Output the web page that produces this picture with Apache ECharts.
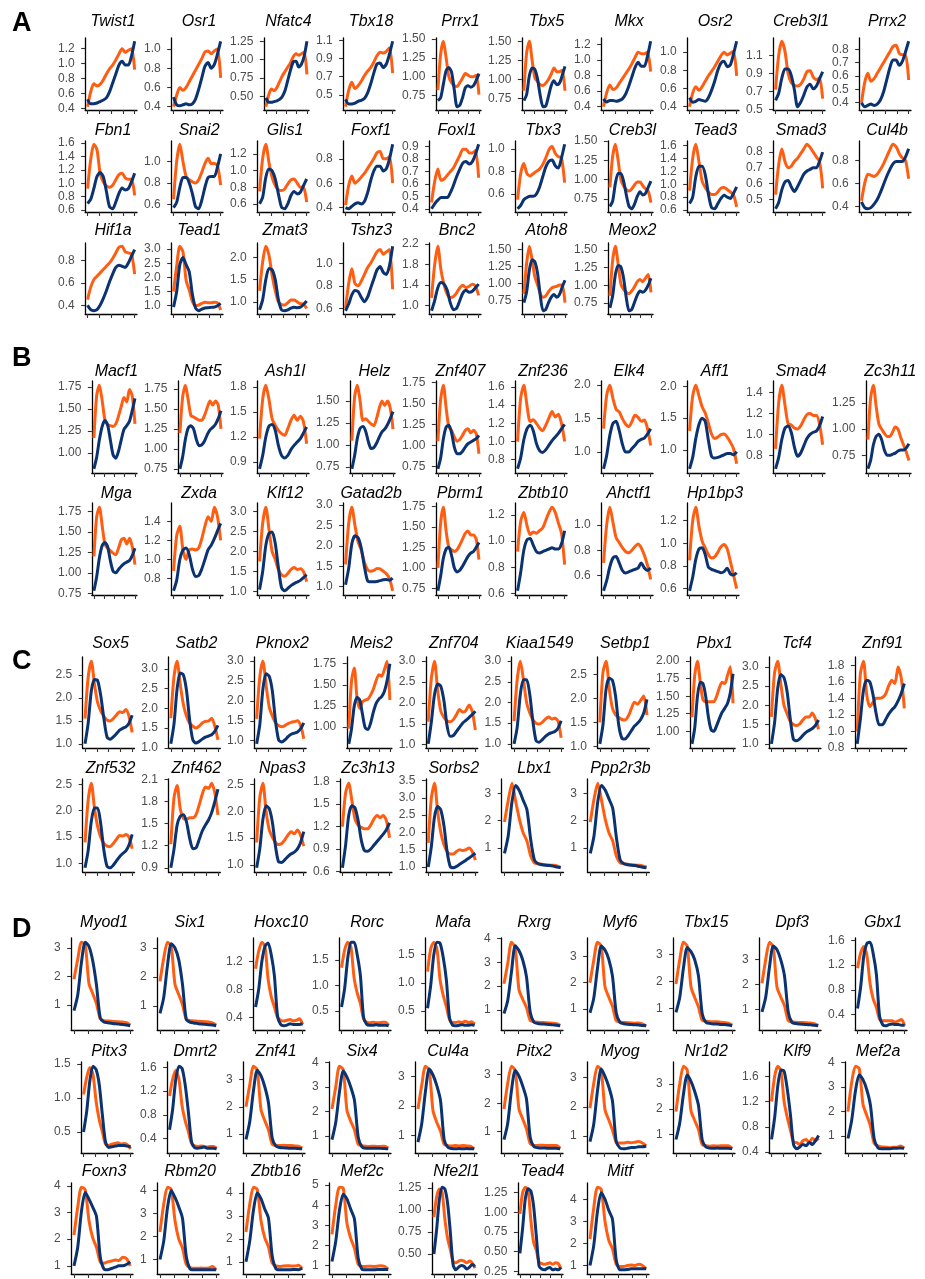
<!DOCTYPE html>
<html><head><meta charset="utf-8">
<script src="https://cdn.jsdelivr.net/npm/echarts@6/dist/echarts.min.js"></script>
<style>html,body{margin:0;padding:0;background:#fff}#c{width:925px;height:1279px}</style>
</head><body><div id="c"></div>
<script>
// ---------------- DATA ----------------
const A_genes = ["Twist1","Osr1","Nfatc4","Tbx18","Prrx1","Tbx5","Mkx","Osr2","Creb3l1","Prrx2",
 "Fbn1","Snai2","Glis1","Foxf1","Foxl1","Tbx3","Creb3l","Tead3","Smad3","Cul4b",
 "Hif1a","Tead1","Zmat3","Tshz3","Bnc2","Atoh8","Meox2"];
const A_orange = [
 [0.42,0.62,0.73,0.70,0.72,0.78,0.86,0.93,0.98,1.05,1.13,1.20,1.15,1.18,1.20,0.92],
 [0.40,0.52,0.60,0.57,0.60,0.66,0.72,0.78,0.84,0.90,0.97,0.98,0.95,0.98,1.00,0.70],
 [0.36,0.52,0.60,0.58,0.62,0.70,0.78,0.84,0.90,0.96,1.04,1.08,1.06,1.08,1.10,0.80],
 [0.37,0.55,0.64,0.57,0.60,0.65,0.71,0.76,0.80,0.86,0.93,0.97,0.96,0.98,1.02,0.74],
 [0.82,1.30,1.47,1.25,1.00,0.92,0.88,0.87,0.92,0.98,1.04,1.02,1.00,1.00,1.02,0.76],
 [0.85,1.35,1.50,1.25,1.02,0.97,0.93,0.92,0.95,1.00,1.07,1.15,1.10,1.10,1.12,0.85],
 [0.40,0.58,0.68,0.62,0.64,0.70,0.76,0.82,0.88,0.95,1.03,1.10,1.08,1.08,1.10,0.85],
 [0.40,0.55,0.62,0.58,0.62,0.68,0.74,0.79,0.84,0.90,0.96,1.00,0.97,0.99,1.01,0.74],
 [0.72,1.10,1.26,1.15,0.90,0.80,0.77,0.76,0.78,0.84,0.92,0.93,0.86,0.83,0.85,0.62],
 [0.40,0.55,0.62,0.56,0.58,0.62,0.66,0.70,0.74,0.78,0.82,0.83,0.77,0.76,0.76,0.57],
 [0.92,1.35,1.58,1.50,1.15,1.02,0.96,0.94,0.97,1.05,1.13,1.15,1.08,1.06,1.06,0.82],
 [0.65,1.00,1.16,1.00,0.86,0.83,0.81,0.80,0.83,0.90,0.98,1.03,0.98,0.98,0.96,0.78],
 [0.75,1.15,1.32,1.10,0.92,0.82,0.77,0.76,0.78,0.84,0.89,0.90,0.85,0.80,0.80,0.62],
 [0.42,0.58,0.66,0.60,0.62,0.65,0.68,0.72,0.76,0.80,0.85,0.86,0.80,0.80,0.82,0.60],
 [0.45,0.62,0.72,0.63,0.64,0.67,0.70,0.73,0.78,0.83,0.88,0.88,0.85,0.85,0.87,0.65],
 [0.55,0.78,0.87,0.78,0.76,0.78,0.80,0.82,0.86,0.92,0.99,1.02,0.96,0.93,0.92,0.70],
 [0.90,1.30,1.46,1.25,1.00,0.92,0.87,0.85,0.88,0.93,0.97,0.97,0.92,0.88,0.85,0.70],
 [0.90,1.40,1.62,1.35,1.05,0.95,0.88,0.84,0.84,0.88,0.94,0.95,0.92,0.88,0.84,0.65],
 [0.53,0.72,0.82,0.74,0.70,0.71,0.74,0.76,0.79,0.82,0.85,0.83,0.80,0.77,0.74,0.57],
 [0.45,0.60,0.68,0.67,0.66,0.68,0.72,0.77,0.83,0.89,0.94,0.92,0.86,0.82,0.80,0.64],
 [0.45,0.56,0.63,0.66,0.69,0.72,0.75,0.78,0.82,0.87,0.92,0.93,0.88,0.87,0.86,0.68],
 [1.50,2.40,3.10,2.90,1.90,1.55,1.15,1.00,1.02,1.08,1.12,1.10,1.10,1.12,1.10,0.85],
 [1.25,1.90,2.25,2.05,1.60,1.25,1.00,0.94,0.93,0.98,1.04,1.04,1.00,0.96,0.95,0.85],
 [0.60,0.82,0.95,0.82,0.80,0.84,0.90,0.96,1.00,1.05,1.10,1.12,1.08,1.10,1.12,0.77],
 [1.15,1.80,2.16,1.70,1.40,1.22,1.16,1.18,1.25,1.35,1.40,1.35,1.38,1.42,1.38,1.20],
 [0.85,1.30,1.55,1.35,1.10,0.98,0.85,0.80,0.82,0.88,0.93,0.95,0.96,0.98,0.98,0.72],
 [0.85,1.35,1.55,1.30,1.02,0.94,0.90,0.88,0.92,0.98,1.05,1.08,1.05,1.10,1.15,0.90]
];
const A_blue = [
 [0.52,0.46,0.46,0.47,0.49,0.51,0.54,0.62,0.74,0.86,0.98,1.03,0.98,0.98,1.10,1.30],
 [0.50,0.42,0.41,0.42,0.43,0.42,0.43,0.48,0.58,0.70,0.82,0.86,0.80,0.84,0.95,1.08],
 [0.48,0.42,0.42,0.43,0.44,0.46,0.50,0.58,0.72,0.86,0.97,0.98,0.90,0.94,1.05,1.25],
 [0.45,0.40,0.40,0.41,0.43,0.44,0.46,0.52,0.62,0.74,0.84,0.85,0.80,0.84,0.95,1.09],
 [0.68,0.72,0.90,1.08,1.12,1.06,0.82,0.60,0.62,0.72,0.85,0.88,0.86,0.88,0.95,1.04],
 [0.72,0.80,1.05,1.15,1.13,1.00,0.78,0.64,0.65,0.78,0.92,0.98,0.93,0.95,1.05,1.17],
 [0.50,0.46,0.48,0.48,0.47,0.48,0.50,0.56,0.66,0.78,0.90,0.97,0.92,0.92,1.05,1.24],
 [0.50,0.45,0.46,0.48,0.47,0.46,0.50,0.58,0.68,0.80,0.88,0.90,0.84,0.86,0.98,1.12],
 [0.60,0.68,0.85,0.95,0.95,0.88,0.72,0.53,0.58,0.66,0.75,0.78,0.73,0.76,0.84,0.92],
 [0.40,0.37,0.38,0.39,0.38,0.39,0.42,0.48,0.57,0.66,0.72,0.72,0.68,0.71,0.78,0.86],
 [0.70,0.76,0.92,1.10,1.16,1.10,0.88,0.65,0.62,0.72,0.85,0.93,0.90,0.92,1.02,1.15],
 [0.57,0.62,0.76,0.85,0.85,0.80,0.70,0.58,0.56,0.64,0.76,0.85,0.86,0.86,0.95,1.07],
 [0.60,0.68,0.92,1.02,1.00,0.90,0.72,0.56,0.54,0.60,0.70,0.75,0.72,0.74,0.82,0.90],
 [0.40,0.39,0.41,0.43,0.44,0.43,0.45,0.52,0.62,0.70,0.74,0.74,0.70,0.72,0.80,0.92],
 [0.40,0.44,0.47,0.49,0.49,0.49,0.53,0.59,0.66,0.72,0.77,0.78,0.76,0.78,0.84,0.92],
 [0.47,0.50,0.55,0.57,0.58,0.58,0.60,0.66,0.75,0.84,0.89,0.90,0.85,0.83,0.92,1.04],
 [0.65,0.72,0.95,1.08,1.08,0.98,0.80,0.65,0.62,0.68,0.78,0.84,0.80,0.82,0.90,0.98],
 [0.70,0.80,1.12,1.28,1.28,1.15,0.85,0.64,0.62,0.70,0.78,0.83,0.80,0.78,0.86,0.96],
 [0.44,0.48,0.56,0.61,0.62,0.58,0.55,0.58,0.62,0.66,0.68,0.69,0.70,0.70,0.74,0.80],
 [0.44,0.39,0.38,0.39,0.42,0.46,0.52,0.59,0.66,0.72,0.77,0.79,0.79,0.79,0.83,0.90],
 [0.40,0.36,0.35,0.36,0.40,0.46,0.53,0.61,0.68,0.74,0.76,0.75,0.74,0.78,0.84,0.90],
 [0.95,1.50,2.45,2.70,2.45,2.20,1.40,0.92,0.82,0.88,0.92,0.93,0.94,0.95,1.00,1.08],
 [0.82,1.05,1.50,1.75,1.72,1.50,1.05,0.82,0.80,0.82,0.86,0.88,0.87,0.88,0.94,1.02],
 [0.58,0.64,0.72,0.76,0.75,0.70,0.66,0.70,0.78,0.86,0.94,0.97,0.92,0.90,0.98,1.15],
 [0.90,1.10,1.35,1.45,1.42,1.30,1.05,0.92,0.95,1.10,1.25,1.30,1.26,1.28,1.35,1.42],
 [0.72,0.88,1.20,1.35,1.32,1.15,0.82,0.60,0.62,0.72,0.80,0.84,0.80,0.84,0.95,1.05],
 [0.68,0.85,1.15,1.28,1.26,1.10,0.82,0.64,0.66,0.76,0.86,0.92,0.90,0.93,1.00,1.10]
];
const A_ticks = [
 ["0.4","0.6","0.8","1.0","1.2"],["0.4","0.6","0.8","1.0"],["0.50","0.75","1.00","1.25"],["0.5","0.7","0.9","1.1"],
 ["0.75","1.00","1.25","1.50"],["0.75","1.00","1.25","1.50"],["0.4","0.6","0.8","1.0","1.2"],["0.4","0.6","0.8","1.0"],
 ["0.5","0.7","0.9","1.1"],["0.4","0.5","0.6","0.7","0.8"],
 ["0.6","0.8","1.0","1.2","1.4","1.6"],["0.6","0.8","1.0","1.2"],["0.6","0.8","1.0","1.2"],["0.4","0.6","0.8"],
 ["0.4","0.5","0.6","0.7","0.8","0.9"],["0.6","0.8","1.0"],["0.75","1.00","1.25","1.50"],["0.6","0.8","1.0","1.2","1.4","1.6"],
 ["0.5","0.6","0.7","0.8"],["0.4","0.6","0.8"],
 ["0.4","0.6","0.8"],["1.0","1.5","2.0","2.5","3.0"],["1.0","1.5","2.0"],["0.6","0.8","1.0"],
 ["1.0","1.4","1.8","2.2"],["0.75","1.00","1.25","1.50"],["0.75","1.00","1.25","1.50"]
];

const B_genes = ["Macf1","Nfat5","Ash1l","Helz","Znf407","Znf236","Elk4","Aff1","Smad4","Zc3h11",
 "Mga","Zxda","Klf12","Gatad2b","Pbrm1","Zbtb10","Ahctf1","Hp1bp3"];
const B_orange = [
 [1.17,1.65,1.77,1.60,1.38,1.32,1.31,1.30,1.33,1.42,1.53,1.63,1.58,1.72,1.65,1.33],
 [1.20,1.65,1.80,1.62,1.42,1.40,1.38,1.36,1.36,1.42,1.52,1.60,1.55,1.60,1.55,1.25],
 [1.18,1.65,1.82,1.65,1.42,1.34,1.28,1.24,1.22,1.30,1.40,1.46,1.40,1.45,1.38,1.12],
 [1.05,1.55,1.68,1.50,1.28,1.30,1.27,1.24,1.22,1.30,1.42,1.50,1.45,1.50,1.42,1.18],
 [1.05,1.55,1.72,1.45,1.22,1.18,1.10,1.05,1.07,1.12,1.18,1.20,1.15,1.18,1.14,0.90],
 [1.00,1.48,1.62,1.40,1.22,1.24,1.20,1.15,1.12,1.18,1.26,1.33,1.27,1.30,1.20,1.00],
 [1.35,1.85,2.00,1.80,1.64,1.60,1.50,1.42,1.38,1.45,1.55,1.52,1.46,1.48,1.35,1.10],
 [1.30,1.85,2.02,1.85,1.68,1.58,1.42,1.25,1.18,1.20,1.24,1.25,1.20,1.12,1.02,0.78],
 [0.86,1.30,1.47,1.28,1.10,1.09,1.06,1.05,1.08,1.14,1.19,1.20,1.18,1.18,1.10,0.90],
 [0.90,1.30,1.42,1.22,1.05,1.00,0.96,0.93,0.93,0.97,1.02,1.00,0.92,0.85,0.78,0.70],
 [1.20,1.68,1.80,1.58,1.35,1.30,1.27,1.24,1.22,1.30,1.40,1.42,1.35,1.42,1.32,1.10],
 [0.88,1.25,1.35,1.10,1.00,1.10,1.11,1.10,1.12,1.22,1.35,1.45,1.40,1.55,1.45,1.20],
 [1.75,2.70,3.10,2.55,2.00,1.80,1.55,1.42,1.38,1.45,1.55,1.60,1.55,1.57,1.50,1.25],
 [1.55,2.55,2.95,2.50,2.10,1.90,1.60,1.42,1.38,1.40,1.45,1.44,1.38,1.32,1.20,0.90],
 [1.00,1.55,1.74,1.45,1.25,1.22,1.20,1.22,1.28,1.35,1.42,1.45,1.40,1.40,1.35,1.10],
 [0.92,1.15,1.22,1.12,1.05,1.07,1.06,1.08,1.10,1.16,1.22,1.26,1.22,1.14,1.06,0.82],
 [0.70,1.00,1.14,1.02,0.90,0.86,0.82,0.79,0.78,0.80,0.83,0.85,0.82,0.76,0.68,0.57],
 [0.85,1.20,1.32,1.15,1.02,0.96,0.90,0.87,0.88,0.92,0.97,0.99,0.95,0.84,0.72,0.60]
];
const B_blue = [
 [0.82,0.95,1.15,1.30,1.37,1.32,1.15,0.98,0.94,1.02,1.15,1.27,1.31,1.36,1.48,1.62],
 [0.75,0.90,1.12,1.26,1.29,1.25,1.12,1.04,1.05,1.10,1.18,1.24,1.27,1.31,1.38,1.48],
 [0.82,0.98,1.20,1.33,1.35,1.28,1.10,0.98,0.95,0.98,1.05,1.10,1.14,1.18,1.25,1.32],
 [0.73,0.88,1.08,1.19,1.21,1.16,1.04,0.96,0.97,1.02,1.09,1.15,1.18,1.23,1.30,1.38],
 [0.72,0.85,1.08,1.22,1.24,1.15,0.98,0.90,0.90,0.93,0.98,1.02,1.04,1.06,1.08,1.12],
 [0.70,0.82,1.02,1.14,1.18,1.12,0.98,0.90,0.88,0.91,0.96,1.01,1.05,1.09,1.14,1.19],
 [0.75,0.95,1.25,1.43,1.46,1.32,1.12,1.00,1.00,1.05,1.10,1.16,1.19,1.21,1.27,1.35],
 [0.70,0.88,1.18,1.40,1.50,1.45,1.15,0.90,0.87,0.88,0.90,0.92,0.94,0.94,0.92,0.97],
 [0.67,0.78,0.95,1.06,1.08,1.02,0.88,0.79,0.82,0.89,0.96,1.00,1.02,1.03,1.08,1.17],
 [0.62,0.70,0.85,0.93,0.95,0.90,0.80,0.75,0.75,0.76,0.77,0.79,0.80,0.80,0.82,0.86],
 [0.78,0.95,1.18,1.33,1.37,1.32,1.15,1.02,1.00,1.04,1.08,1.11,1.13,1.15,1.21,1.30],
 [0.67,0.78,1.00,1.10,1.12,1.05,0.90,0.82,0.83,0.90,1.00,1.10,1.15,1.22,1.30,1.38],
 [1.05,1.50,2.15,2.45,2.48,2.20,1.60,1.10,1.02,1.08,1.15,1.20,1.24,1.28,1.35,1.42],
 [1.05,1.45,2.05,2.25,2.20,1.95,1.50,1.15,1.12,1.12,1.13,1.15,1.17,1.18,1.16,1.21],
 [0.72,0.90,1.12,1.23,1.25,1.15,1.00,0.95,0.97,1.02,1.08,1.14,1.18,1.20,1.25,1.31],
 [0.62,0.76,0.93,1.01,1.02,0.97,0.92,0.91,0.92,0.93,0.94,0.95,0.94,0.94,0.98,1.08],
 [0.48,0.56,0.67,0.74,0.75,0.70,0.64,0.62,0.63,0.64,0.65,0.66,0.70,0.66,0.64,0.66],
 [0.58,0.70,0.86,0.95,0.96,0.90,0.79,0.77,0.76,0.75,0.74,0.75,0.78,0.73,0.72,0.74]
];
const B_ticks = [
 ["1.00","1.25","1.50","1.75"],["0.75","1.00","1.25","1.50","1.75"],["0.9","1.2","1.5","1.8"],["0.75","1.00","1.25","1.50"],
 ["0.75","1.00","1.25","1.50","1.75"],["0.8","1.0","1.2","1.4","1.6"],["1.0","1.5","2.0"],["1.0","1.5","2.0"],
 ["0.8","1.0","1.2","1.4"],["0.75","1.00","1.25"],
 ["0.75","1.00","1.25","1.50","1.75"],["0.8","1.0","1.2","1.4","1.6"],["1.0","1.5","2.0","2.5","3.0"],["1.0","1.5","2.0","2.5","3.0"],
 ["0.75","1.00","1.25","1.50","1.75"],["0.6","0.8","1.0","1.2"],["0.6","0.8","1.0"],["0.6","0.8","1.0","1.2"]
];

const C_genes = ["Sox5","Satb2","Pknox2","Meis2","Znf704","Kiaa1549","Setbp1","Pbx1","Tcf4","Znf91",
 "Znf532","Znf462","Npas3","Zc3h13","Sorbs2","Lbx1","Ppp2r3b"];
const C_orange = [
 [1.55,2.45,2.80,2.30,1.90,1.72,1.60,1.52,1.50,1.55,1.63,1.70,1.68,1.75,1.60,1.25],
 [1.75,2.80,3.20,2.60,2.10,1.80,1.62,1.55,1.50,1.55,1.63,1.67,1.68,1.75,1.55,1.20],
 [1.55,2.60,3.00,2.40,1.85,1.62,1.45,1.38,1.35,1.38,1.43,1.46,1.48,1.50,1.38,1.05],
 [0.98,1.55,1.70,1.35,1.22,1.30,1.32,1.33,1.38,1.45,1.55,1.62,1.60,1.68,1.78,1.32],
 [1.55,2.60,3.00,2.30,1.80,1.65,1.57,1.55,1.60,1.72,1.84,1.78,1.82,1.95,1.80,1.35],
 [1.55,2.55,3.00,2.55,2.00,1.75,1.58,1.50,1.48,1.52,1.60,1.65,1.60,1.62,1.55,1.15],
 [1.50,2.55,2.78,2.20,1.80,1.66,1.60,1.56,1.55,1.62,1.78,1.92,1.88,1.96,2.05,1.65],
 [1.20,1.80,2.00,1.70,1.45,1.42,1.42,1.42,1.42,1.50,1.62,1.70,1.68,1.80,1.92,1.40],
 [1.70,2.85,3.15,2.55,2.00,1.78,1.58,1.50,1.48,1.52,1.62,1.70,1.70,1.80,1.65,1.38],
 [1.00,1.70,1.85,1.45,1.30,1.35,1.40,1.40,1.41,1.45,1.55,1.62,1.58,1.78,1.65,1.28],
 [1.40,2.20,2.52,2.05,1.70,1.50,1.38,1.33,1.32,1.38,1.46,1.53,1.52,1.55,1.50,1.28],
 [1.22,1.85,2.02,1.70,1.57,1.56,1.58,1.58,1.62,1.75,1.90,2.00,1.98,2.05,1.92,1.62],
 [1.42,2.25,2.52,2.00,1.66,1.52,1.42,1.38,1.40,1.47,1.56,1.62,1.58,1.65,1.55,1.35],
 [1.20,1.65,1.78,1.55,1.30,1.22,1.19,1.17,1.17,1.22,1.30,1.35,1.32,1.35,1.28,1.05],
 [1.70,3.00,3.42,2.60,2.00,1.65,1.45,1.38,1.38,1.45,1.50,1.48,1.50,1.55,1.45,1.20],
 [1.95,2.75,3.38,2.70,2.05,1.55,1.25,0.70,0.45,0.42,0.40,0.38,0.37,0.36,0.34,0.28],
 [1.95,2.80,3.38,2.75,2.05,1.55,1.25,0.68,0.45,0.42,0.40,0.38,0.37,0.36,0.34,0.30]
];
const C_blue = [
 [1.00,1.45,2.15,2.40,2.38,2.05,1.55,1.15,1.10,1.15,1.22,1.30,1.34,1.37,1.45,1.62],
 [1.10,1.60,2.50,2.90,2.85,2.45,1.70,1.20,1.12,1.16,1.22,1.27,1.30,1.33,1.42,1.57],
 [0.92,1.40,2.30,2.68,2.62,2.25,1.50,1.02,0.97,1.02,1.10,1.16,1.19,1.22,1.30,1.45],
 [0.80,0.98,1.25,1.35,1.32,1.15,0.99,0.97,1.05,1.18,1.28,1.33,1.36,1.42,1.55,1.75],
 [1.02,1.55,2.20,2.45,2.40,2.05,1.45,1.20,1.22,1.32,1.42,1.52,1.58,1.65,1.72,1.80],
 [1.00,1.40,2.20,2.55,2.55,2.20,1.55,1.08,1.04,1.10,1.18,1.24,1.27,1.30,1.38,1.56],
 [1.05,1.45,2.20,2.42,2.38,2.05,1.45,1.17,1.15,1.22,1.32,1.42,1.48,1.56,1.70,1.98],
 [0.82,1.05,1.50,1.70,1.68,1.50,1.20,1.02,1.00,1.08,1.18,1.27,1.33,1.40,1.55,1.82],
 [1.00,1.55,2.45,2.80,2.72,2.35,1.65,1.12,1.08,1.13,1.22,1.30,1.35,1.40,1.48,1.62],
 [0.85,1.15,1.50,1.62,1.60,1.45,1.22,1.08,1.08,1.14,1.21,1.26,1.30,1.37,1.46,1.58],
 [0.92,1.25,1.80,2.05,2.05,1.75,1.25,0.95,0.92,0.97,1.05,1.13,1.19,1.24,1.35,1.55],
 [0.90,1.15,1.48,1.60,1.62,1.52,1.30,1.16,1.17,1.28,1.40,1.48,1.55,1.65,1.80,1.97],
 [0.95,1.30,1.85,2.10,2.05,1.80,1.35,1.06,1.05,1.10,1.16,1.21,1.24,1.30,1.42,1.62],
 [0.65,0.95,1.35,1.48,1.45,1.28,1.02,0.88,0.87,0.90,0.95,1.00,1.05,1.10,1.16,1.25],
 [1.00,1.60,2.45,2.75,2.65,2.20,1.45,1.02,0.98,1.02,1.08,1.14,1.20,1.26,1.33,1.40],
 [0.80,1.45,2.70,3.30,3.10,2.75,2.40,1.30,0.55,0.42,0.38,0.36,0.35,0.33,0.30,0.27],
 [0.80,1.45,2.70,3.30,3.12,2.80,2.45,1.35,0.55,0.42,0.38,0.36,0.35,0.32,0.29,0.27]
];
const C_ticks = [
 ["1.0","1.5","2.0","2.5"],["1.0","1.5","2.0","2.5","3.0"],["1.0","1.5","2.0","2.5","3.0"],["0.75","1.00","1.25","1.50","1.75"],
 ["1.0","1.5","2.0","2.5","3.0"],["1.0","1.5","2.0","2.5","3.0"],["1.0","1.5","2.0","2.5"],["0.75","1.00","1.25","1.50","1.75","2.00"],
 ["1.0","1.5","2.0","2.5","3.0"],["0.8","1.0","1.2","1.4","1.6","1.8"],
 ["1.0","1.5","2.0","2.5"],["0.9","1.2","1.5","1.8","2.1"],["1.0","1.5","2.0","2.5"],["0.6","0.9","1.2","1.5","1.8"],
 ["1.0","1.5","2.0","2.5","3.0","3.5"],["1","2","3"],["1","2","3"]
];

const D_genes = ["Myod1","Six1","Hoxc10","Rorc","Mafa","Rxrg","Myf6","Tbx15","Dpf3","Gbx1",
 "Pitx3","Dmrt2","Znf41","Six4","Cul4a","Pitx2","Myog","Nr1d2","Klf9","Mef2a",
 "Foxn3","Rbm20","Zbtb16","Mef2c","Nfe2l1","Tead4","Mitf"];
const D_orange = [
 [1.90,2.60,3.20,3.10,1.75,1.40,1.05,0.52,0.45,0.44,0.43,0.42,0.41,0.40,0.38,0.30],
 [1.85,2.65,3.20,3.05,1.75,1.40,1.05,0.55,0.50,0.49,0.48,0.47,0.46,0.45,0.42,0.35],
 [1.10,1.35,1.48,1.42,0.95,0.70,0.55,0.40,0.36,0.35,0.36,0.37,0.35,0.36,0.38,0.30],
 [1.35,1.70,1.85,1.75,1.15,0.85,0.65,0.35,0.28,0.27,0.28,0.27,0.27,0.28,0.28,0.22],
 [1.20,1.60,1.72,1.60,1.05,0.78,0.58,0.35,0.30,0.30,0.31,0.30,0.32,0.30,0.31,0.27],
 [2.10,2.95,3.85,3.60,1.85,1.45,1.10,0.55,0.50,0.48,0.47,0.46,0.45,0.44,0.42,0.35],
 [2.00,2.85,3.55,3.40,1.85,1.45,1.10,0.55,0.50,0.48,0.47,0.46,0.45,0.46,0.42,0.35],
 [1.90,2.80,3.45,3.30,1.80,1.40,1.05,0.55,0.52,0.50,0.50,0.50,0.48,0.47,0.45,0.38],
 [2.05,3.00,3.70,3.50,1.90,1.50,1.15,0.55,0.50,0.48,0.47,0.47,0.46,0.45,0.43,0.36],
 [1.15,1.40,1.50,1.35,0.90,0.65,0.52,0.33,0.30,0.30,0.30,0.30,0.28,0.30,0.32,0.22],
 [1.05,1.30,1.45,1.35,0.95,0.68,0.50,0.32,0.30,0.32,0.33,0.34,0.32,0.33,0.31,0.25],
 [1.12,1.40,1.55,1.40,0.95,0.70,0.52,0.32,0.28,0.27,0.28,0.27,0.26,0.27,0.27,0.24],
 [2.00,2.80,3.50,3.35,1.90,1.50,1.15,0.62,0.58,0.57,0.58,0.57,0.57,0.56,0.55,0.48],
 [2.10,3.00,3.85,3.70,2.05,1.60,1.25,0.65,0.60,0.58,0.57,0.58,0.57,0.57,0.58,0.50],
 [1.90,2.70,3.35,3.20,1.85,1.45,1.15,0.70,0.66,0.65,0.66,0.65,0.66,0.65,0.64,0.55],
 [1.80,2.70,3.30,3.15,1.80,1.45,1.10,0.58,0.52,0.52,0.53,0.52,0.52,0.52,0.52,0.42],
 [1.95,2.80,3.40,3.25,1.90,1.55,1.20,0.78,0.75,0.75,0.78,0.76,0.78,0.80,0.75,0.65],
 [1.90,3.00,3.70,3.55,1.95,1.55,1.20,0.60,0.55,0.53,0.55,0.54,0.55,0.55,0.55,0.45],
 [1.20,1.60,1.76,1.68,1.20,0.95,0.75,0.56,0.55,0.52,0.58,0.60,0.55,0.62,0.58,0.62],
 [2.00,3.20,3.85,3.75,2.30,1.85,1.40,0.70,0.60,0.56,0.55,0.53,0.55,0.55,0.60,0.52],
 [2.15,3.20,3.95,3.85,2.70,2.05,1.70,1.15,1.10,1.15,1.18,1.22,1.20,1.32,1.28,1.00],
 [2.20,3.40,4.15,4.05,2.70,1.90,1.50,0.80,0.65,0.62,0.62,0.63,0.62,0.63,0.70,0.55],
 [2.30,3.50,4.25,4.15,2.80,2.05,1.65,0.95,0.82,0.80,0.82,0.83,0.82,0.82,0.85,0.70],
 [2.55,4.00,4.90,4.85,3.10,2.35,1.85,1.05,0.95,0.95,0.96,0.95,0.96,0.98,0.95,0.82],
 [0.92,1.15,1.24,1.20,0.90,0.68,0.55,0.42,0.40,0.42,0.43,0.42,0.40,0.42,0.40,0.34],
 [0.98,1.25,1.32,1.28,0.90,0.62,0.52,0.37,0.35,0.34,0.35,0.36,0.34,0.36,0.35,0.28],
 [2.20,3.60,4.55,4.45,3.00,2.15,1.75,1.05,0.95,0.95,1.00,1.02,1.00,1.05,1.00,0.85]
];
const D_blue = [
 [0.80,1.35,2.50,3.20,3.05,2.55,1.70,0.55,0.40,0.38,0.36,0.34,0.33,0.32,0.30,0.27],
 [0.75,1.30,2.40,3.15,3.00,2.60,1.75,0.55,0.45,0.42,0.40,0.38,0.37,0.36,0.35,0.32],
 [0.55,0.80,1.20,1.42,1.47,1.30,1.00,0.42,0.30,0.28,0.29,0.31,0.30,0.30,0.30,0.31],
 [0.58,0.95,1.55,1.85,1.85,1.60,1.20,0.38,0.24,0.22,0.22,0.23,0.22,0.22,0.22,0.21],
 [0.55,0.95,1.50,1.72,1.70,1.45,1.05,0.38,0.25,0.24,0.25,0.26,0.25,0.25,0.26,0.25],
 [0.85,1.40,2.60,3.70,3.50,3.10,2.40,0.90,0.48,0.43,0.41,0.40,0.39,0.37,0.35,0.33],
 [0.85,1.40,2.55,3.40,3.25,2.90,2.25,0.85,0.48,0.43,0.41,0.40,0.39,0.38,0.36,0.35],
 [0.85,1.40,2.50,3.25,3.10,2.80,2.20,0.80,0.48,0.44,0.42,0.42,0.40,0.40,0.38,0.35],
 [0.90,1.50,2.70,3.55,3.40,3.00,2.35,0.90,0.48,0.43,0.41,0.40,0.39,0.38,0.36,0.34],
 [0.50,0.85,1.35,1.55,1.57,1.38,1.05,0.38,0.24,0.22,0.24,0.25,0.24,0.24,0.23,0.23],
 [0.50,0.80,1.25,1.47,1.42,1.20,0.75,0.35,0.27,0.28,0.29,0.30,0.30,0.30,0.29,0.28],
 [0.55,0.90,1.40,1.62,1.58,1.30,0.85,0.35,0.25,0.24,0.25,0.26,0.24,0.24,0.24,0.23],
 [0.80,1.45,2.60,3.35,3.15,2.75,2.15,0.85,0.55,0.50,0.49,0.48,0.47,0.47,0.46,0.45],
 [0.85,1.55,2.80,3.65,3.40,3.00,2.45,0.95,0.55,0.50,0.50,0.50,0.50,0.49,0.48,0.47],
 [0.78,1.40,2.50,3.25,3.05,2.70,2.20,0.85,0.60,0.56,0.55,0.56,0.55,0.56,0.55,0.55],
 [0.72,1.30,2.45,3.15,2.95,2.60,2.15,0.80,0.48,0.44,0.43,0.43,0.42,0.42,0.42,0.40],
 [0.80,1.40,2.55,3.30,3.05,2.70,2.20,0.80,0.58,0.55,0.57,0.60,0.60,0.62,0.62,0.65],
 [0.80,1.45,2.60,3.35,3.10,2.70,2.15,0.78,0.50,0.46,0.45,0.46,0.45,0.45,0.45,0.43],
 [0.60,0.95,1.45,1.70,1.68,1.40,1.00,0.52,0.45,0.48,0.52,0.50,0.55,0.52,0.58,0.66],
 [0.90,1.65,2.85,3.50,3.30,2.90,2.25,0.88,0.52,0.48,0.48,0.48,0.50,0.50,0.52,0.50],
 [1.00,1.70,3.05,3.75,3.50,3.20,2.85,1.35,0.88,0.85,0.90,0.95,1.00,1.00,1.05,1.15],
 [1.00,1.80,3.25,4.00,3.70,3.30,2.80,1.15,0.60,0.55,0.55,0.56,0.55,0.56,0.55,0.55],
 [1.00,1.90,3.25,4.00,3.75,3.30,2.90,1.25,0.70,0.65,0.65,0.66,0.66,0.67,0.66,0.72],
 [1.20,2.20,3.75,4.55,4.30,3.80,3.30,1.35,0.82,0.78,0.78,0.78,0.80,0.80,0.80,0.80],
 [0.50,0.78,1.12,1.26,1.24,1.08,0.75,0.38,0.32,0.35,0.37,0.36,0.33,0.35,0.38,0.36],
 [0.48,0.80,1.18,1.30,1.27,1.08,0.70,0.32,0.28,0.27,0.29,0.30,0.27,0.28,0.27,0.30],
 [1.00,1.90,3.45,4.30,4.00,3.50,3.10,1.25,0.80,0.80,0.82,0.85,0.85,0.85,0.85,0.85]
];
const D_ticks = [
 ["1","2","3"],["1","2","3"],["0.4","0.8","1.2"],["0.5","1.0","1.5"],["0.5","1.0","1.5"],
 ["1","2","3","4"],["1","2","3"],["1","2","3"],["1","2","3"],["0.4","0.8","1.2","1.6"],
 ["0.5","1.0","1.5"],["0.4","0.8","1.2","1.6"],["1","2","3"],["1","2","3","4"],["1","2","3"],
 ["1","2","3"],["1","2","3"],["1","2","3"],["0.4","0.8","1.2","1.6"],["1","2","3","4"],
 ["1","2","3","4"],["1","2","3","4"],["1","2","3","4"],["1","2","3","4","5"],
 ["0.50","0.75","1.00","1.25"],["0.25","0.50","0.75","1.00","1.25"],["1","2","3","4"]
];
const X_TICKS = [0, 0.25, 0.5, 0.75, 1];

// ---------------- LAYOUT / STYLE ----------------
const FONT = '"Liberation Sans", Arial, Helvetica, sans-serif';
const LABEL_SIZE = 12, LABEL_GAP = 10.5, CELL_OFFSET = 79;
const ORANGE = '#ff5e12', BLUE = '#0b3271';

const panels = [
 {letter:'A', letterY:24, genes:A_genes, orange:A_orange, blue:A_blue, ticks:A_ticks,
  rows:[[22,38,110],[131,141,212],[231,243,314]], r0:137, step:86},
 {letter:'B', letterY:359, genes:B_genes, orange:B_orange, blue:B_blue, ticks:B_ticks,
  rows:[[372,381,473],[494,503,595]], r0:137, step:86},
 {letter:'C', letterY:662, genes:C_genes, orange:C_orange, blue:C_blue, ticks:C_ticks,
  rows:[[644,657,748],[769,779,872]], r0:134.5, step:85.8},
 {letter:'D', letterY:930, genes:D_genes, orange:D_orange, blue:D_blue, ticks:D_ticks,
  rows:[[923,938,1030],[1052,1062,1153],[1172,1183,1274]], r0:133, step:86}
];

const ctx = document.createElement('canvas').getContext('2d');
ctx.font = LABEL_SIZE + 'px ' + FONT;

const grids = [], xAxes = [], yAxes = [], series = [], graphics = [];
let k = 0;
panels.forEach(p => {
  graphics.push({type:'text', x:12, y:p.letterY, silent:true,
    style:{text:p.letter, fill:'#000', font:'bold 27px ' + FONT, align:'left', verticalAlign:'middle',
           textAlign:'left', textVerticalAlign:'middle'}});
  p.genes.forEach((g, i) => {
    const row = Math.floor(i / 10), col = i % 10;
    const [ty, top, bottom] = p.rows[row];
    const right = p.r0 + p.step * col;
    const tk = p.ticks[i];
    const tn = tk.map(Number);
    const maxW = Math.max(...tk.map(t => ctx.measureText(t).width));
    const left = right - CELL_OFFSET + maxW + LABEL_GAP;
    grids.push({left:left, top:top, width:right-left, height:bottom-top, containLabel:false, outerBoundsMode:'none'});
    xAxes.push({type:'value', gridIndex:k, min:-0.05, max:1.05,
      axisLine:{show:true, onZero:false, lineStyle:{color:'#000', width:1.3}},
      axisTick:{show:true, length:4, interval:0, lineStyle:{color:'#333', width:1.1}, customValues:X_TICKS},
      axisLabel:{show:false, customValues:X_TICKS}, splitLine:{show:false}});
    yAxes.push({type:'value', gridIndex:k,
      min: e => e.min - 0.05 * (e.max - e.min),
      max: e => e.max + 0.05 * (e.max - e.min),
      axisLine:{show:true, onZero:false, lineStyle:{color:'#000', width:1.3}},
      axisTick:{show:true, length:4, interval:0, lineStyle:{color:'#333', width:1.1}, customValues:tn},
      axisLabel:{show:true, interval:0, customValues:tn, color:'#4d4d4d', fontSize:LABEL_SIZE, fontFamily:FONT,
        lineHeight:12, margin:LABEL_GAP, showMinLabel:true, showMaxLabel:true, hideOverlap:false,
        formatter: v => { const j = tn.findIndex(n => Math.abs(n - v) < 1e-9); return j >= 0 ? tk[j] : ''; }},
      splitLine:{show:false}});
    const mk = arr => arr.map((v, j) => [j / (arr.length - 1), v]);
    series.push({type:'line', xAxisIndex:k, yAxisIndex:k, data:mk(p.orange[i]), showSymbol:false, symbol:'none',
      smooth:0.25, lineStyle:{color:ORANGE, width:3}, silent:true, z:2});
    series.push({type:'line', xAxisIndex:k, yAxisIndex:k, data:mk(p.blue[i]), showSymbol:false, symbol:'none',
      smooth:0.25, lineStyle:{color:BLUE, width:3}, silent:true, z:3});
    graphics.push({type:'text', x:(left + right) / 2 + 2, y:ty, silent:true,
      style:{text:g, fill:'#000', font:'italic 16px ' + FONT, align:'center', verticalAlign:'middle',
             textAlign:'center', textVerticalAlign:'middle'}});
    k++;
  });
});

const chart = echarts.init(document.getElementById('c'), null, {renderer:'canvas'});
chart.setOption({animation:false, backgroundColor:'#fff', grid:grids, xAxis:xAxes, yAxis:yAxes, series:series, graphic:graphics});
</script></body></html>
